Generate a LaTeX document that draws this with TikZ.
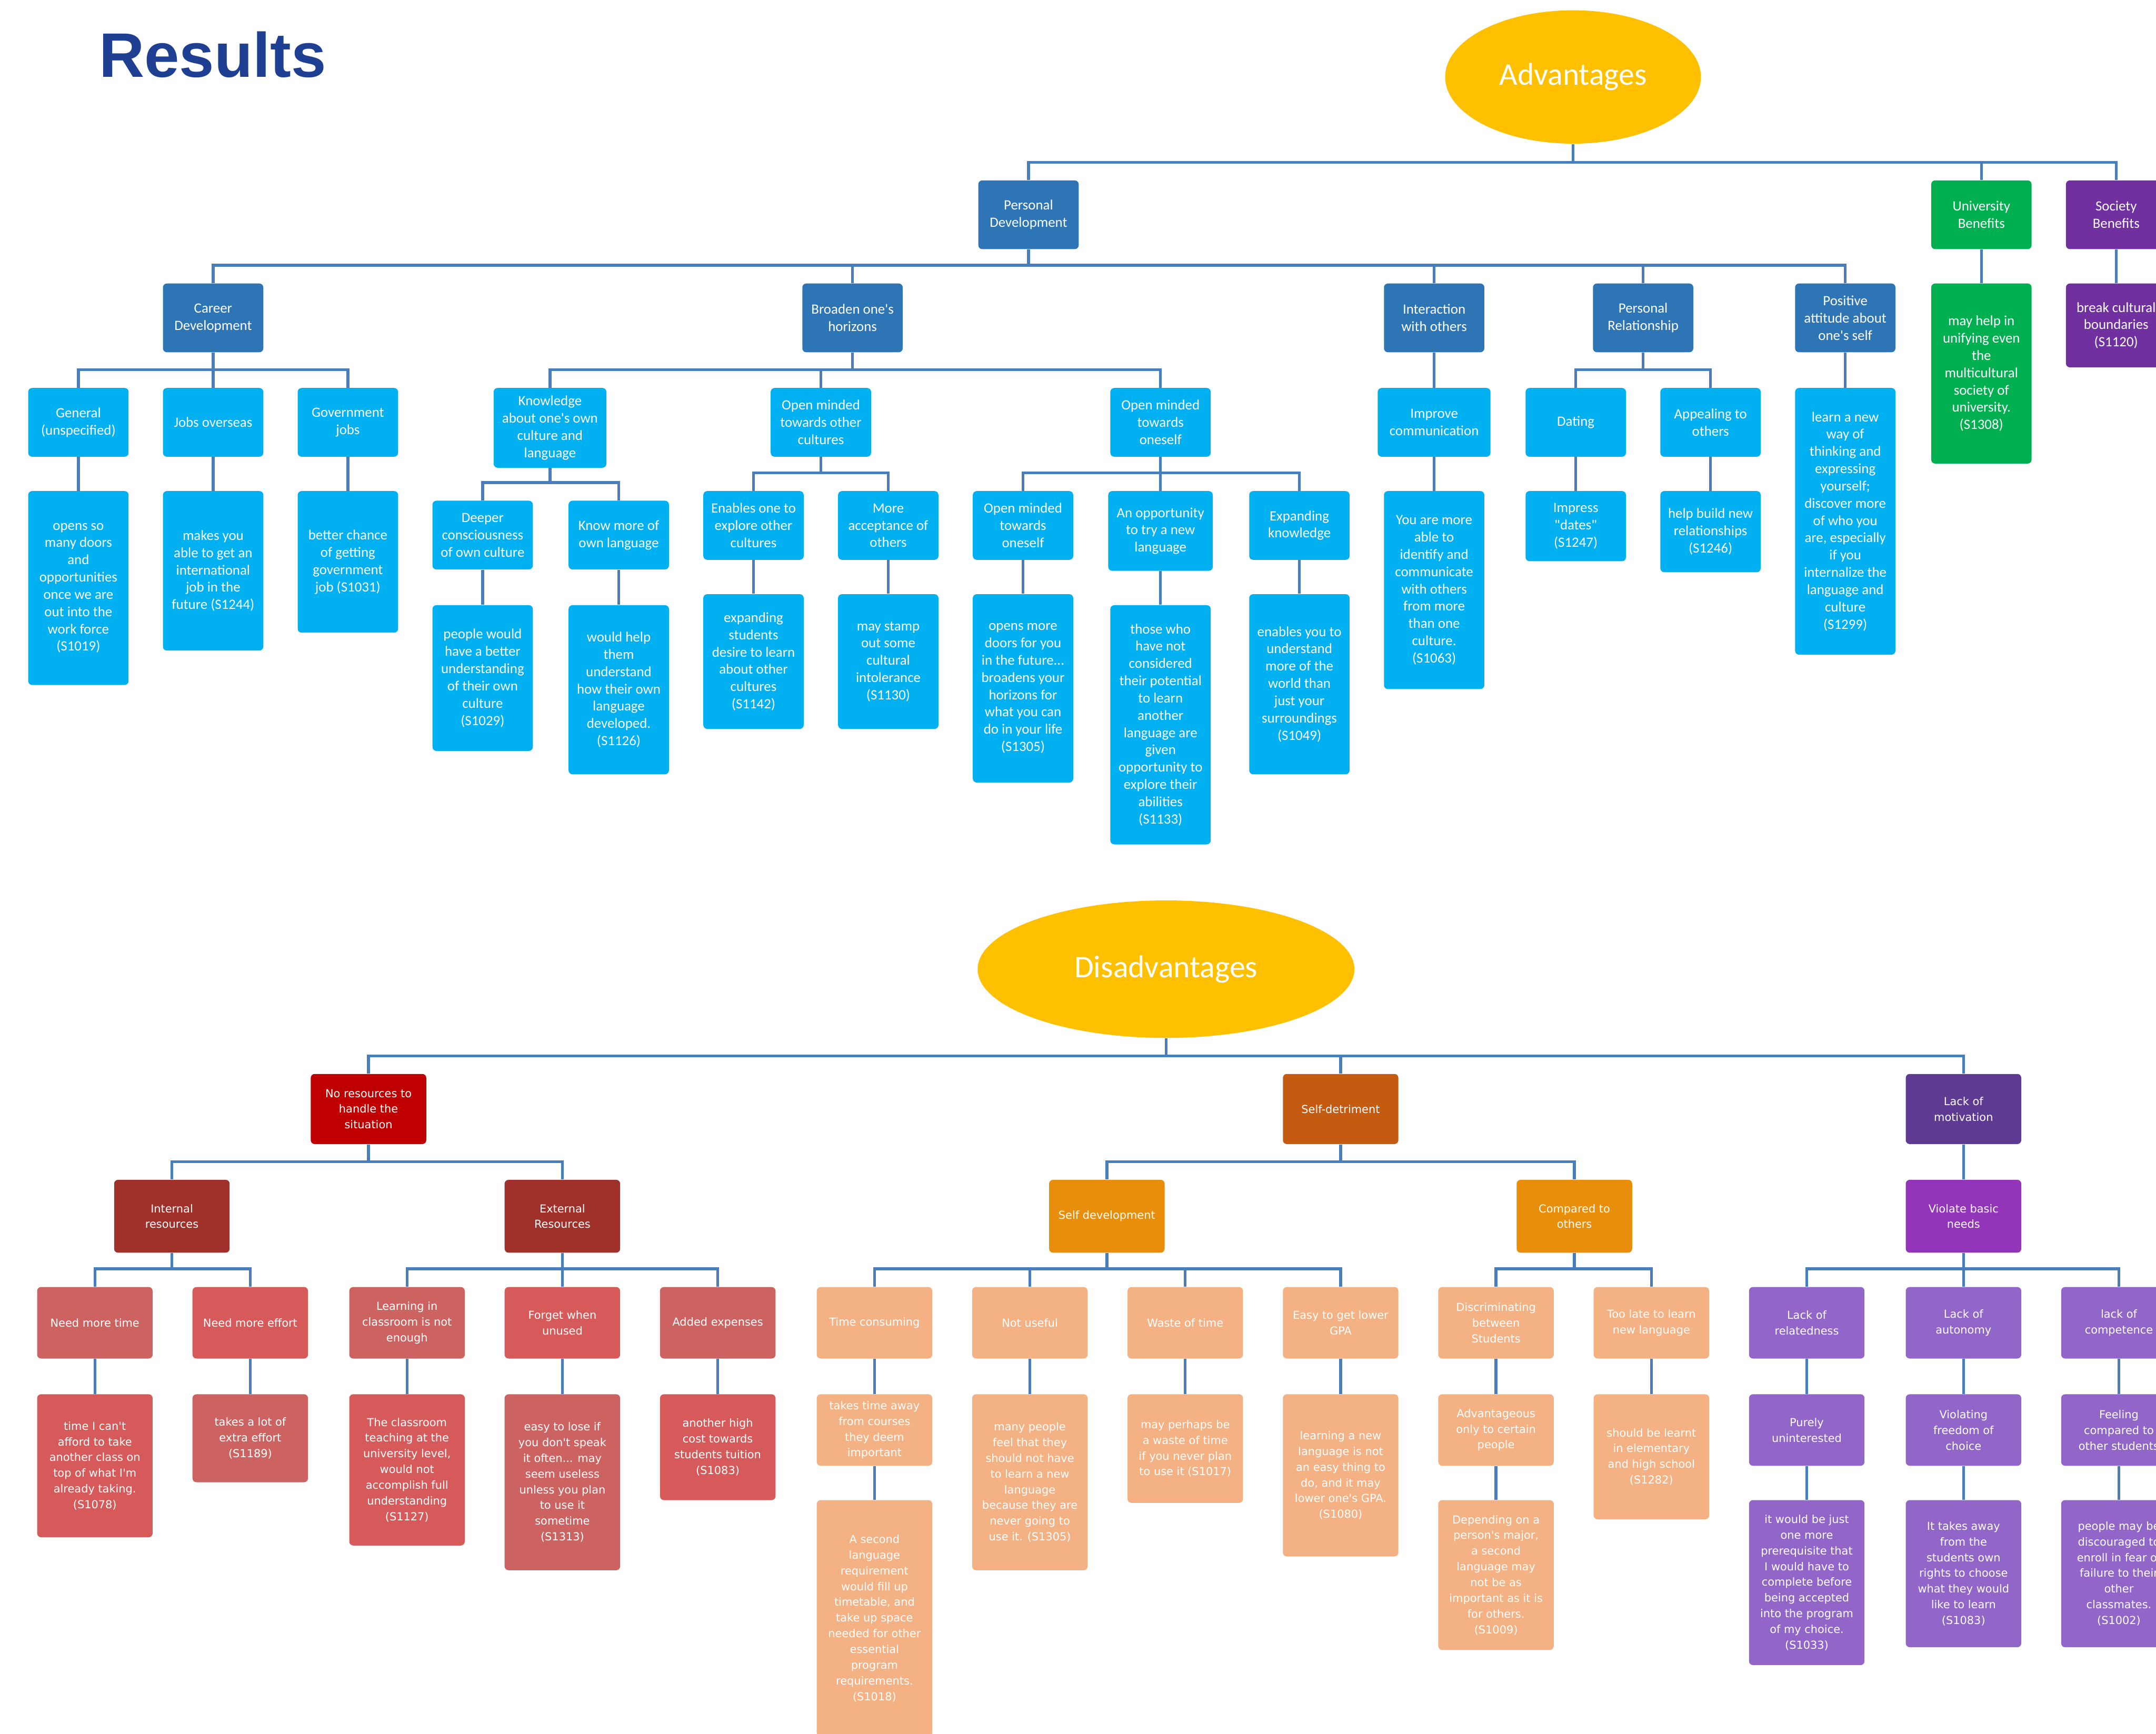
\documentclass[tikz,border=0pt]{standalone}
\usepackage{fontspec}
\usepackage{tikz}
\usetikzlibrary{calc,shapes.geometric}
\newfontfamily\calibri{Carlito}
\newfontfamily\verdana{DejaVu Sans}
\newfontfamily\arial{Liberation Sans}
\definecolor{linea}{HTML}{4A7EBB}
\definecolor{titolo}{HTML}{1F3F93}
\definecolor{giallo}{HTML}{FFC000}
\definecolor{blu}{HTML}{2E75B6}
\definecolor{azzurro}{HTML}{00B0F0}
\definecolor{verde}{HTML}{00B050}
\definecolor{viola}{HTML}{7030A0}
\definecolor{rosso}{HTML}{C00000}
\definecolor{mattone}{HTML}{A0302A}
\definecolor{salmoneA}{HTML}{CD6361}
\definecolor{salmoneB}{HTML}{D65A5A}
\definecolor{ruggine}{HTML}{C55A11}
\definecolor{arancio}{HTML}{E98E0A}
\definecolor{pesca}{HTML}{F4B183}
\definecolor{prugna}{HTML}{5E3A92}
\definecolor{orchidea}{HTML}{9235B9}
\definecolor{lilla}{HTML}{9166C8}
\newcommand{\unita}{0.03074cm}
\newcommand{\testo}{\calibri\fontsize{9}{11}\selectfont}
\newcommand{\testob}{\verdana\fontsize{7}{10}\selectfont}

\begin{document}
\begin{tikzpicture}[x=0.03074cm, y=-0.03074cm,
    box/.style={rectangle, rounded corners=2.5pt, anchor=north, align=center,
      text=white, inner sep=0pt, minimum width=73*\unita, font=\testo},
    boxb/.style={box, minimum width=84*\unita, font=\testob},
    ht/.style={minimum height=#1*\unita},
    wd/.style={minimum width=#1*\unita},
    ellisse/.style={ellipse, fill=giallo, inner sep=0pt, text=white,
      font=\calibri\fontsize{20}{24}\selectfont},
    conn/.style={linea, line width=1.8pt}]
  \useasboundingbox (0,0) rectangle (1568,1261);

  % Titolo
  \node[anchor=base west, text=titolo, font=\arial\bfseries\fontsize{40}{44}\selectfont]
    (tit) at (68,56) {Results};

  % Vantaggi
  \node[ellisse, minimum width=186*\unita, minimum height=97*\unita] (adv) at (1144,56) {Advantages};

  \node[box, ht=50, fill=blu]   (pd) at (748,131) {Personal\\Development};
  \node[box, ht=50, fill=verde] (ub) at (1441,131) {University\\Benefits};
  \node[box, ht=50, fill=viola] (sb) at (1539,131) {Society\\Benefits};
  \node[box, ht=131, fill=verde] (ubl) at (1441,206) {may help in\\unifying even\\the\\multicultural\\society of\\university.\\(S1308)};
  \node[box, ht=61, fill=viola]  (sbl) at (1539,206) {break cultural\\boundaries\\(S1120)};

  \node[box, ht=50, fill=blu] (cd) at (155,206)  {Career\\Development};
  \node[box, ht=50, fill=blu] (bh) at (620,206)  {Broaden one's\\horizons};
  \node[box, ht=50, fill=blu] (io) at (1043,206) {Interaction\\with others};
  \node[box, ht=50, fill=blu] (pr) at (1195,206) {Personal\\Relationship};
  \node[box, ht=50, fill=blu] (pa) at (1342,206) {Positive\\attitude about\\one's self};

  \node[box, ht=50, fill=azzurro] (gen) at (57,282)  {General\\(unspecified)};
  \node[box, ht=50, fill=azzurro] (jo)  at (155,282) {Jobs overseas};
  \node[box, ht=50, fill=azzurro] (gj)  at (253,282) {Government\\jobs};
  \node[box, ht=141, fill=azzurro] (genl) at (57,357)  {opens so\\many doors\\and\\opportunities\\once we are\\out into the\\work force\\(S1019)};
  \node[box, ht=116, fill=azzurro] (jol)  at (155,357) {makes you\\able to get an\\international\\job in the\\future (S1244)};
  \node[box, ht=103, fill=azzurro] (gjl)  at (253,357) {better chance\\of getting\\government\\job (S1031)};

  \node[box, ht=58, wd=82, fill=azzurro] (kn) at (400,282) {Knowledge\\about one's own\\culture and\\language};
  \node[box, ht=50, fill=azzurro] (omc) at (597,282) {Open minded\\towards other\\cultures};
  \node[box, ht=50, fill=azzurro] (omo) at (844,282) {Open minded\\towards\\oneself};

  \node[box, ht=50, fill=azzurro]  (dc)  at (351,364) {Deeper\\consciousness\\of own culture};
  \node[box, ht=50, fill=azzurro]  (km)  at (450,364) {Know more of\\own language};
  \node[box, ht=106, fill=azzurro] (dcl) at (351,440) {people would\\have a better\\understanding\\of their own\\culture\\(S1029)};
  \node[box, ht=123, fill=azzurro] (kml) at (450,440) {would help\\them\\understand\\how their own\\language\\developed.\\(S1126)};

  \node[box, ht=50, fill=azzurro] (eo)  at (548,357) {Enables one to\\explore other\\cultures};
  \node[box, ht=50, fill=azzurro] (ma)  at (646,357) {More\\acceptance of\\others};
  \node[box, ht=98, fill=azzurro] (eol) at (548,432) {expanding\\students\\desire to learn\\about other\\cultures\\(S1142)};
  \node[box, ht=98, fill=azzurro] (mal) at (646,432) {may stamp\\out some\\cultural\\intolerance\\(S1130)};

  \node[box, ht=50, fill=azzurro]        (omo2) at (744,357) {Open minded\\towards\\oneself};
  \node[box, ht=58, wd=76, fill=azzurro] (ot)   at (844,357) {An opportunity\\to try a new\\language};
  \node[box, ht=50, fill=azzurro]        (ek)   at (945,357) {Expanding\\knowledge};
  \node[box, ht=137, fill=azzurro] (omol) at (744,432) {opens more\\doors for you\\in the future...\\broadens your\\horizons for\\what you can\\do in your life\\(S1305)};
  \node[box, ht=174, fill=azzurro] (otl)  at (844,440) {those who\\have not\\considered\\their potential\\to learn\\another\\language are\\given\\opportunity to\\explore their\\abilities\\(S1133)};
  \node[box, ht=131, fill=azzurro] (ekl)  at (945,432) {enables you to\\understand\\more of the\\world than\\just your\\surroundings\\(S1049)};

  \node[box, ht=50, wd=82, fill=azzurro] (ic)  at (1043,282) {Improve\\communication};
  \node[box, ht=144, fill=azzurro]       (iol) at (1043,357) {You are more\\able to\\identify and\\communicate\\with others\\from more\\than one\\culture.\\(S1063)};
  \node[box, ht=50, fill=azzurro] (dat)  at (1146,282) {Dating};
  \node[box, ht=50, fill=azzurro] (app)  at (1244,282) {Appealing to\\others};
  \node[box, ht=51, fill=azzurro] (datl) at (1146,357) {Impress\\"dates"\\(S1247)};
  \node[box, ht=59, fill=azzurro] (appl) at (1244,357) {help build new\\relationships\\(S1246)};
  \node[box, ht=194, fill=azzurro] (pal) at (1342,282) {learn a new\\way of\\thinking and\\expressing\\yourself;\\discover more\\of who you\\are, especially\\if you\\internalize the\\language and\\culture\\(S1299)};

  % Svantaggi
  \node[ellisse, minimum width=274*\unita, minimum height=100*\unita] (dis) at (848,705) {Disadvantages};

  \node[boxb, ht=51, fill=rosso]   (nr) at (268,781)  {No resources to\\handle the\\situation};
  \node[boxb, ht=51, fill=ruggine] (sd) at (975,781)  {Self-detriment};
  \node[boxb, ht=51, fill=prugna]  (lm) at (1428,781) {Lack of\\motivation};

  \node[boxb, ht=53, fill=mattone]  (ir)   at (125,858)  {Internal\\resources};
  \node[boxb, ht=53, fill=mattone]  (er)   at (409,858)  {External\\Resources};
  \node[boxb, ht=53, fill=arancio]  (sdev) at (805,858)  {Self development};
  \node[boxb, ht=53, fill=arancio]  (co)   at (1145,858) {Compared to\\others};
  \node[boxb, ht=53, fill=orchidea] (vb)   at (1428,858) {Violate basic\\needs};

  \node[boxb, ht=52, fill=salmoneA] (nt) at (69,936)  {Need more time};
  \node[boxb, ht=52, fill=salmoneB] (ne) at (182,936) {Need more effort};
  \node[boxb, ht=52, fill=salmoneA] (lc) at (296,936) {Learning in\\classroom is not\\enough};
  \node[boxb, ht=52, fill=salmoneB] (fw) at (409,936) {Forget when\\unused};
  \node[boxb, ht=52, fill=salmoneA] (ae) at (522,936) {Added expenses};
  \node[boxb, ht=104, fill=salmoneB] (ntl) at (69,1014)  {time I can't\\afford to take\\another class on\\top of what I'm\\already taking.\\(S1078)};
  \node[boxb, ht=64, fill=salmoneA]  (nel) at (182,1014) {takes a lot of\\extra effort\\(S1189)};
  \node[boxb, ht=110, fill=salmoneB] (lcl) at (296,1014) {The classroom\\teaching at the\\university level,\\would not\\accomplish full\\understanding\\(S1127)};
  \node[boxb, ht=128, fill=salmoneA] (fwl) at (409,1014) {easy to lose if\\you don't speak\\it often... may\\seem useless\\unless you plan\\to use it\\sometime\\(S1313)};
  \node[boxb, ht=77, fill=salmoneB]  (ael) at (522,1014) {another high\\cost towards\\students tuition\\(S1083)};

  \node[boxb, ht=52, fill=pesca] (tc) at (636,936)  {Time consuming};
  \node[boxb, ht=52, fill=pesca] (nu) at (749,936)  {Not useful};
  \node[boxb, ht=52, fill=pesca] (wt) at (862,936)  {Waste of time};
  \node[boxb, ht=52, fill=pesca] (eg) at (975,936)  {Easy to get lower\\GPA};
  \node[boxb, ht=52, fill=pesca] (db) at (1088,936) {Discriminating\\between\\Students};
  \node[boxb, ht=52, fill=pesca] (tl) at (1201,936) {Too late to learn\\new language};
  \node[boxb, ht=52, fill=pesca]  (tcl)  at (636,1014)  {takes time away\\from courses\\they deem\\important};
  \node[boxb, ht=172, fill=pesca] (tcl2) at (636,1091)  {A second\\language\\requirement\\would fill up\\timetable, and\\take up space\\needed for other\\essential\\program\\requirements.\\(S1018)};
  \node[boxb, ht=128, fill=pesca] (nul)  at (749,1014)  {many people\\feel that they\\should not have\\to learn a new\\language\\because they are\\never going to\\use it. (S1305)};
  \node[boxb, ht=79, fill=pesca]  (wtl)  at (862,1014)  {may perhaps be\\a waste of time\\if you never plan\\to use it (S1017)};
  \node[boxb, ht=118, fill=pesca] (egl)  at (975,1014)  {learning a new\\language is not\\an easy thing to\\do, and it may\\lower one's GPA.\\(S1080)};
  \node[boxb, ht=52, fill=pesca]  (dbl)  at (1088,1014) {Advantageous\\only to certain\\people};
  \node[boxb, ht=109, fill=pesca] (dbl2) at (1088,1091) {Depending on a\\person's major,\\a second\\language may\\not be as\\important as it is\\for others.\\(S1009)};
  \node[boxb, ht=91, fill=pesca]  (tll)  at (1201,1014) {should be learnt\\in elementary\\and high school\\(S1282)};

  \node[boxb, ht=52, fill=lilla] (lr)  at (1314,936) {Lack of\\relatedness};
  \node[boxb, ht=52, fill=lilla] (la)  at (1428,936) {Lack of\\autonomy};
  \node[boxb, ht=52, fill=lilla] (lco) at (1541,936) {lack of\\competence};
  \node[boxb, ht=52, fill=lilla] (lrl)  at (1314,1014) {Purely\\uninterested};
  \node[boxb, ht=52, fill=lilla] (lal)  at (1428,1014) {Violating\\freedom of\\choice};
  \node[boxb, ht=52, fill=lilla] (lcol) at (1541,1014) {Feeling\\compared to\\other students};
  \node[boxb, ht=120, fill=lilla] (lrl2)  at (1314,1091) {it would be just\\one more\\prerequisite that\\I would have to\\complete before\\being accepted\\into the program\\of my choice.\\(S1033)};
  \node[boxb, ht=107, fill=lilla] (lal2)  at (1428,1091) {It takes away\\from the\\students own\\rights to choose\\what they would\\like to learn\\(S1083)};
  \node[boxb, ht=107, fill=lilla] (lcol2) at (1541,1091) {people may be\\discouraged to\\enroll in fear of\\failure to their\\other\\classmates.\\(S1002)};

  % Collegamenti
  \foreach \genitore/\figlio in {adv/pd, adv/ub, adv/sb, ub/ubl, sb/sbl,
      pd/cd, pd/bh, pd/io, pd/pr, pd/pa,
      cd/gen, cd/jo, cd/gj, gen/genl, jo/jol, gj/gjl,
      bh/kn, bh/omc, bh/omo, kn/dc, kn/km, dc/dcl, km/kml,
      omc/eo, omc/ma, eo/eol, ma/mal,
      omo/omo2, omo/ot, omo/ek, omo2/omol, ot/otl, ek/ekl,
      io/ic, ic/iol, pr/dat, pr/app, dat/datl, app/appl, pa/pal,
      dis/nr, dis/sd, dis/lm, nr/ir, nr/er,
      ir/nt, ir/ne, nt/ntl, ne/nel,
      er/lc, er/fw, er/ae, lc/lcl, fw/fwl, ae/ael,
      sd/sdev, sd/co, sdev/tc, sdev/nu, sdev/wt, sdev/eg,
      tc/tcl, tcl/tcl2, nu/nul, wt/wtl, eg/egl,
      co/db, co/tl, db/dbl, dbl/dbl2, tl/tll,
      lm/vb, vb/lr, vb/la, vb/lco, lr/lrl, lrl/lrl2,
      la/lal, lal/lal2, lco/lcol, lcol/lcol2}
    \draw[conn] (\genitore.south) |- ($(\figlio.north)+(0,-13)$) -- (\figlio.north);
\end{tikzpicture}
\end{document}
